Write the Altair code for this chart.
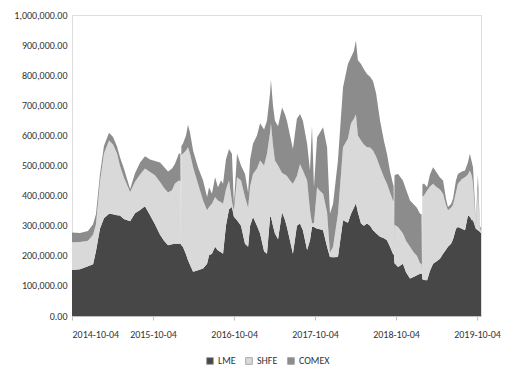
import altair as alt
import pandas as pd

dates = [
    "2014-10-04", "2014-11-09", "2014-12-15", "2015-01-07", "2015-01-20", "2015-02-07", "2015-02-25",
    "2015-03-20", "2015-04-07", "2015-04-25", "2015-05-08", "2015-05-26", "2015-06-23", "2015-07-15",
    "2015-08-07", "2015-08-29", "2015-09-21", "2015-10-13", "2015-11-05", "2015-11-23", "2015-12-11",
    "2015-12-29", "2016-01-11", "2016-01-29", "2016-02-05", "2016-02-07", "2016-02-09", "2016-02-16",
    "2016-03-01", "2016-03-10", "2016-03-19", "2016-04-02", "2016-04-24", "2016-05-17", "2016-06-04",
    "2016-06-13", "2016-06-26", "2016-07-10", "2016-07-23", "2016-08-06", "2016-08-15", "2016-08-28",
    "2016-09-11", "2016-09-24", "2016-10-03", "2016-10-17", "2016-11-04", "2016-11-22", "2016-12-06",
    "2016-12-15", "2016-12-28", "2017-01-15", "2017-01-29", "2017-02-16", "2017-03-01", "2017-03-15",
    "2017-03-19", "2017-03-28", "2017-04-06", "2017-04-20", "2017-05-08", "2017-05-21", "2017-05-30",
    "2017-06-13", "2017-06-26", "2017-07-14", "2017-07-28", "2017-08-10", "2017-08-29", "2017-09-11",
    "2017-09-20", "2017-09-29", "2017-10-13", "2017-10-26", "2017-11-09", "2017-11-27", "2017-12-10",
    "2017-12-24", "2018-01-15", "2018-02-07", "2018-03-01", "2018-03-15", "2018-03-28", "2018-04-06",
    "2018-04-15", "2018-04-29", "2018-05-12", "2018-05-26", "2018-06-09", "2018-06-22", "2018-07-06",
    "2018-07-24", "2018-08-11", "2018-08-24", "2018-09-07", "2018-09-20", "2018-09-23", "2018-09-25",
    "2018-09-27", "2018-10-04", "2018-10-13", "2018-11-04", "2018-11-18", "2018-12-06", "2018-12-24",
    "2019-01-06", "2019-01-20", "2019-01-27", "2019-01-29", "2019-01-31", "2019-02-07", "2019-02-21",
    "2019-03-06", "2019-03-20", "2019-04-02", "2019-04-20", "2019-05-04", "2019-05-17", "2019-05-26",
    "2019-06-09", "2019-06-18", "2019-07-01", "2019-07-10", "2019-07-28", "2019-08-11", "2019-08-24",
    "2019-09-02", "2019-09-11", "2019-09-16", "2019-09-29", "2019-10-08", "2019-10-17", "2019-10-22",
]

# thousand tonnes
lme = [
    153, 155, 165, 172, 215, 290, 325,
    340, 338, 335, 334, 322, 315, 341,
    352, 365, 335, 305, 270, 250, 235,
    238, 240, 240, 240, 238, 235, 230,
    205, 185, 170, 147, 152, 158, 174,
    202, 207, 230, 218, 212, 207, 300,
    355, 362, 330, 318, 300, 240, 230,
    300, 329, 300, 274, 215, 207, 329,
    330, 300, 274, 255, 345, 320, 296,
    250, 207, 300, 307, 285, 219, 252,
    296, 296, 290, 288, 285, 230, 196,
    195, 196, 318, 310, 340, 360, 375,
    345, 307, 300, 307, 300, 285, 275,
    263, 258, 252, 230, 207, 205, 200,
    175, 170, 163, 174, 145, 125, 130,
    135, 140, 140, 140, 122, 120, 119,
    150, 174, 180, 190, 207, 220, 230,
    240, 255, 290, 296, 290, 285, 334,
    330, 318, 318, 290, 285, 280, 275,
]
shfe = [
    92, 91, 85, 98, 90, 155, 215,
    243, 232, 205, 166, 138, 97, 105,
    118, 125, 143, 163, 175, 175, 175,
    180, 200, 210, 208, 2, 300, 309,
    345, 376, 370, 347, 287, 226, 177,
    160, 166, 165, 166, 166, 166, 120,
    95, 18, 20, 143, 150, 155, 130,
    130, 143, 190, 243, 285, 332, 281,
    310, 270, 243, 245, 130, 150, 169,
    200, 232, 165, 198, 198, 231, 99,
    11, 14, 138, 127, 121, 115, 14,
    35, 144, 243, 280, 300, 295, 295,
    255, 276, 270, 254, 260, 265, 255,
    231, 202, 187, 180, 177, 177, 20,
    128, 130, 133, 100, 105, 105, 80,
    65, 35, 33, 10, 275, 280, 298,
    280, 265, 250, 230, 199, 150, 121,
    120, 115, 120, 143, 165, 176, 136,
    153, 147, 121, 10, 135, 10, 10,
]
comex = [
    32, 30, 32, 35, 33, 25, 25,
    26, 25, 23, 28, 30, 10, 28,
    40, 41, 42, 47, 65, 70, 70,
    72, 65, 90, 92, 2, 30, 33,
    50, 74, 70, 56, 55, 66, 44,
    66, 33, 66, 44, 72, 66, 100,
    105, 159, 23, 78, 50, 77, 50,
    90, 100, 110, 123, 120, 110, 130,
    145, 130, 132, 130, 218, 200, 184,
    150, 116, 190, 166, 166, 122, 132,
    325, 118, 166, 195, 221, 216, 130,
    143, 177, 199, 247, 220, 225, 245,
    250, 254, 250, 243, 235, 231, 210,
    155, 120, 100, 70, 55, 50, 5,
    165, 170, 176, 176, 170, 154, 160,
    160, 165, 165, 5, 40, 40, 11,
    40, 55, 50, 40, 44, 20, 11,
    12, 20, 40, 33, 25, 22, 40,
    56, 45, 55, 10, 50, 10, 5,
]

series = ["LME", "SHFE", "COMEX"]
colors = ["#474747", "#d9d9d9", "#8c8c8c"]
year_ticks = [2014, 2015, 2016, 2017, 2018, 2019]

rows = []
for name, vals in zip(series, [lme, shfe, comex]):
    for d, v in zip(dates, vals):
        rows.append({"date": d, "exchange": name, "value": v * 1000, "order": series.index(name)})
df = pd.DataFrame(rows)

FONT = "Carlito, Liberation Sans, Arial, sans-serif"

chart = (
    alt.Chart(df)
    .mark_area(interpolate="linear")
    .encode(
        x=alt.X(
            "date:T",
            scale=alt.Scale(
                type="utc",
                domain=[alt.DateTime(year=2014, month=10, date=4, utc=True),
                        alt.DateTime(year=2019, month=10, date=22, utc=True)],
                nice=False,
            ),
            axis=alt.Axis(
                title=None,
                values=[alt.DateTime(year=y, month=10, date=4, utc=True) for y in year_ticks],
                format="%Y-%m-%d",
                grid=False,
                domainColor="#bfbfbf",
                tickColor="#bfbfbf",
                tickSize=4,
                labelPadding=9,
                labelOverlap=False,
                labelFontSize=10,
                labelFont=FONT,
                labelColor="#333333",
            ),
        ),
        y=alt.Y(
            "value:Q",
            stack="zero",
            scale=alt.Scale(domain=[0, 1000000], nice=False),
            axis=alt.Axis(
                title=None,
                values=list(range(0, 1000001, 100000)),
                format=",.2f",
                grid=False,
                domain=False,
                ticks=False,
                labelPadding=5,
                labelOverlap=False,
                labelFontSize=10,
                labelFont=FONT,
                labelColor="#333333",
            ),
        ),
        color=alt.Color(
            "exchange:N",
            scale=alt.Scale(domain=series, range=colors),
            sort=series,
            legend=alt.Legend(
                title=None,
                orient="none",
                direction="horizontal",
                legendX=133,
                legendY=341,
                symbolType="square",
                symbolSize=45,
                symbolStrokeColor="#9a9a9a",
                symbolStrokeWidth=0.8,
                labelFontSize=10,
                labelFont=FONT,
                labelColor="#333333",
                labelOffset=3,
                columnPadding=8,
            ),
        ),
        order=alt.Order("order:Q", sort="ascending"),
    )
    .properties(
        width=409,
        height=301,
        autosize=alt.AutoSizeParams(type="none"),
        padding={"left": 64, "top": 7, "right": 25, "bottom": 56},
    )
    .configure_view(stroke=None)
    .configure(background="white")
)

chart.save("out.html", embed_options={"renderer": "svg", "actions": False})
